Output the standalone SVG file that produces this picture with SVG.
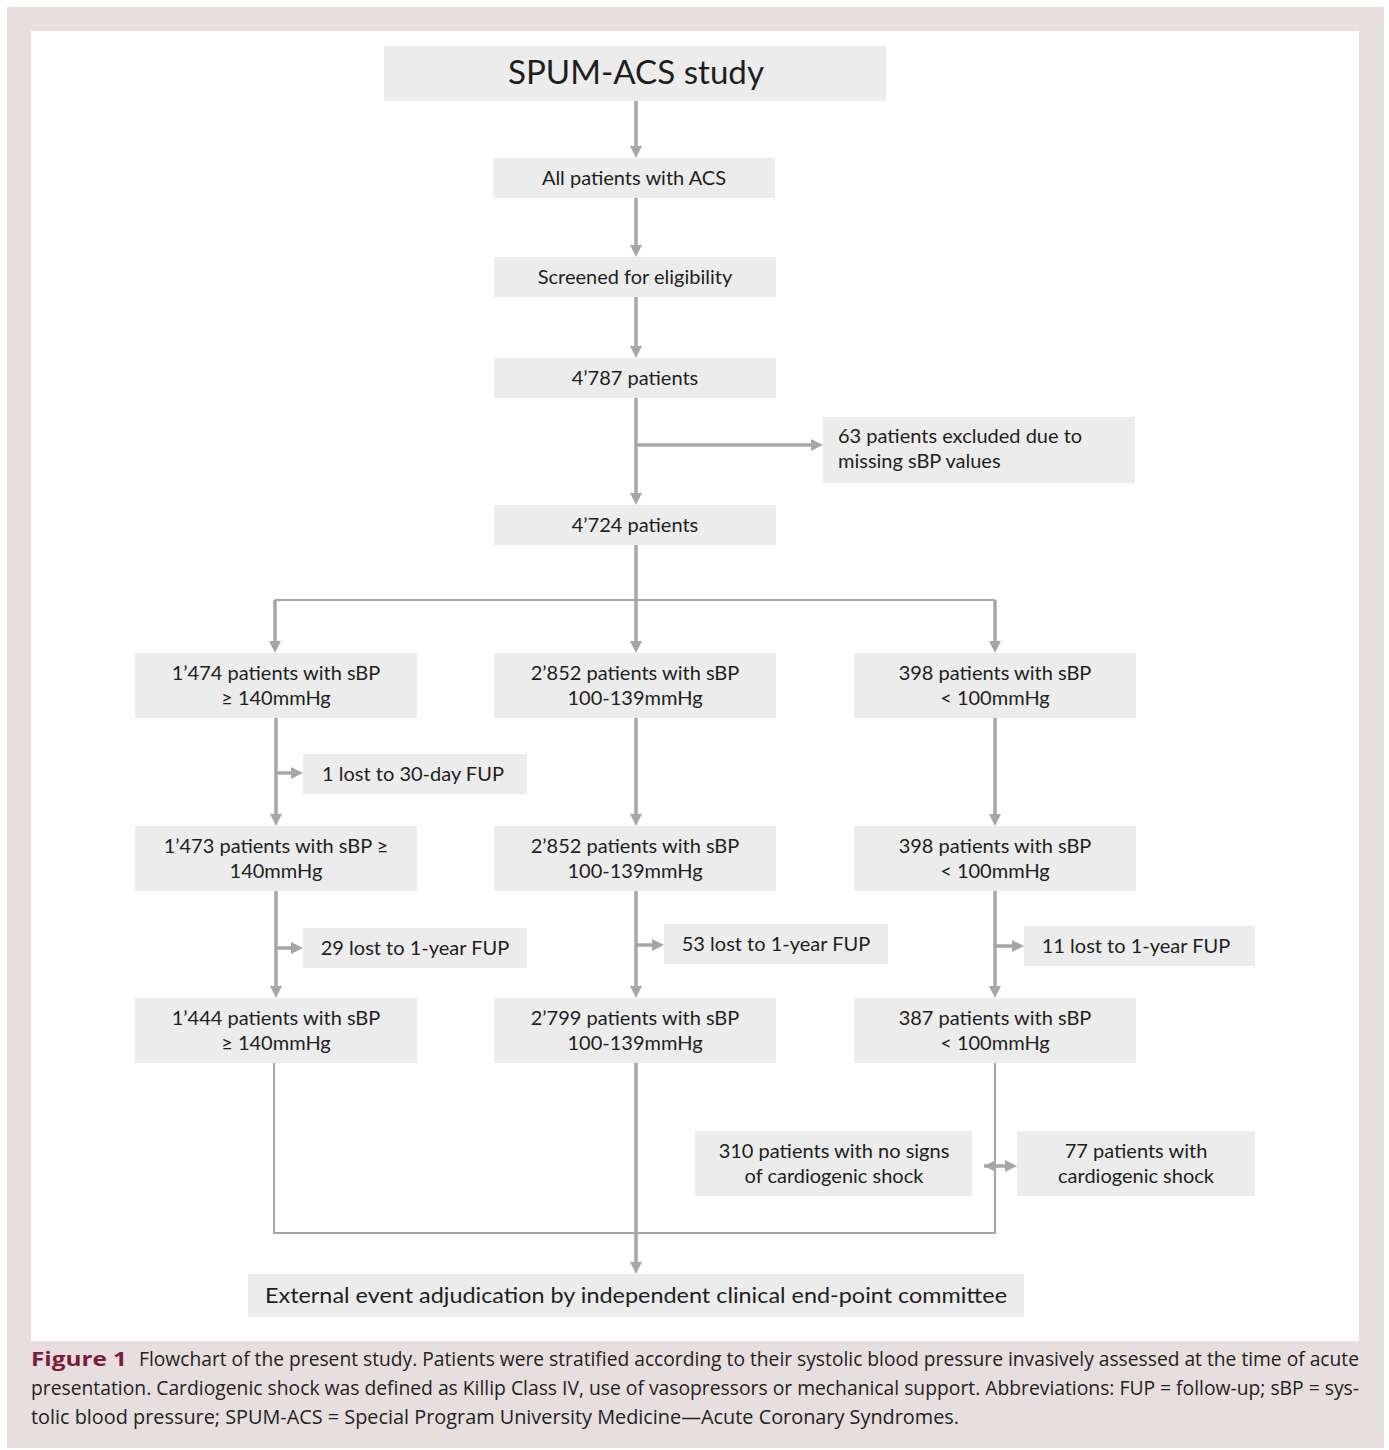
<svg xmlns="http://www.w3.org/2000/svg" width="1389" height="1450" viewBox="0 0 1389 1450">
<style>
.bg{fill:#e8dede}
.box{fill:#ececec}
.t{font-family:Lato,"Noto Sans",sans-serif;font-size:20px;fill:#1e1e1e;text-anchor:middle}
.tl{text-anchor:start}
.big{font-size:32px}
.ext{font-size:22px}
.a{stroke:#a6a6a6;stroke-width:3.5;fill:none}
.thin{stroke:#a6a6a6;stroke-width:2;fill:none}
.cap{font-family:"Open Sans","Liberation Sans",sans-serif;font-size:19.5px;fill:#222}
.fig{font-weight:bold;fill:#7b1c3c}
</style>
<defs>
<marker id="ah" viewBox="0 0 10 10" refX="0" refY="5" markerWidth="12" markerHeight="12" markerUnits="userSpaceOnUse" orient="auto"><path d="M0,0 L10,5 L0,10 z" fill="#a6a6a6"/></marker>
<marker id="ahs" viewBox="0 0 10 10" refX="10" refY="5" markerWidth="12" markerHeight="12" markerUnits="userSpaceOnUse" orient="auto-start-reverse"><path d="M0,0 L10,5 L0,10 z" fill="#a6a6a6"/></marker>
</defs>
<rect x="0" y="0" width="1389" height="1450" fill="#ffffff"/>
<rect class="bg" x="7" y="7" width="1377" height="1441"/>
<rect x="31" y="31" width="1328" height="1310" fill="#ffffff"/>

<g id="connectors">
<path class="a" d="M636,101 V146" marker-end="url(#ah)"/>
<path class="a" d="M636,198 V245" marker-end="url(#ah)"/>
<path class="a" d="M636,297 V346" marker-end="url(#ah)"/>
<path class="a" d="M636,398 V493" marker-end="url(#ah)"/>
<path class="a" d="M636,445 H811" marker-end="url(#ah)"/>
<path class="a" d="M636,545 V641" marker-end="url(#ah)"/>
<path class="thin" d="M275,600 H995"/>
<path class="a" d="M275,600 V641" marker-end="url(#ah)"/>
<path class="a" d="M995,600 V641" marker-end="url(#ah)"/>
<path class="a" d="M276,718 V814" marker-end="url(#ah)"/>
<path class="a" d="M276,773 H291" marker-end="url(#ah)"/>
<path class="a" d="M276,891 V986" marker-end="url(#ah)"/>
<path class="a" d="M276,948 H291" marker-end="url(#ah)"/>
<path class="a" d="M636,718 V814" marker-end="url(#ah)"/>
<path class="a" d="M636,891 V986" marker-end="url(#ah)"/>
<path class="a" d="M636,945 H652" marker-end="url(#ah)"/>
<path class="a" d="M995,718 V814" marker-end="url(#ah)"/>
<path class="a" d="M995,891 V986" marker-end="url(#ah)"/>
<path class="a" d="M995,946 H1012" marker-end="url(#ah)"/>
<path class="thin" d="M274,1063 V1233 H995 V1063"/>
<path class="a" d="M636,1063 V1262" marker-end="url(#ah)"/>
<path class="a" d="M984,1166 H1005" marker-start="url(#ahs)" marker-end="url(#ah)"/>
</g>

<g id="n-spum"><rect class="box" x="384" y="46" width="502" height="55"/><text class="t big" x="636" y="84" textLength="256" lengthAdjust="spacingAndGlyphs">SPUM-ACS study</text></g>
<g id="n-all"><rect class="box" x="493" y="158" width="282" height="40"/><text class="t" x="634" y="185">All patients with ACS</text></g>
<g id="n-screen"><rect class="box" x="494" y="257" width="282" height="40"/><text class="t" x="635" y="284">Screened for eligibility</text></g>
<g id="n-4787"><rect class="box" x="494" y="358" width="282" height="40"/><text class="t" x="635" y="385">4’787 patients</text></g>
<g id="n-excl"><rect class="box" x="823" y="417" width="312" height="66"/><text class="t tl" x="838" y="443">63 patients excluded due to</text><text class="t tl" x="838" y="468">missing sBP values</text></g>
<g id="n-4724"><rect class="box" x="494" y="505" width="282" height="40"/><text class="t" x="635" y="532">4’724 patients</text></g>

<g id="n-l1"><rect class="box" x="135" y="653" width="282" height="65"/><text class="t" x="276" y="680">1’474 patients with sBP</text><text class="t" x="276" y="705">≥ 140mmHg</text></g>
<g id="n-m1"><rect class="box" x="494" y="653" width="282" height="65"/><text class="t" x="635" y="680">2’852 patients with sBP</text><text class="t" x="635" y="705">100-139mmHg</text></g>
<g id="n-r1"><rect class="box" x="854" y="653" width="282" height="65"/><text class="t" x="995" y="680">398 patients with sBP</text><text class="t" x="995" y="705">&lt; 100mmHg</text></g>

<g id="n-lost30"><rect class="box" x="303" y="754" width="224" height="40"/><text class="t" x="413" y="781">1 lost to 30-day FUP</text></g>

<g id="n-l2"><rect class="box" x="135" y="826" width="282" height="65"/><text class="t" x="276" y="853">1’473 patients with sBP ≥</text><text class="t" x="276" y="878">140mmHg</text></g>
<g id="n-m2"><rect class="box" x="494" y="826" width="282" height="65"/><text class="t" x="635" y="853">2’852 patients with sBP</text><text class="t" x="635" y="878">100-139mmHg</text></g>
<g id="n-r2"><rect class="box" x="854" y="826" width="282" height="65"/><text class="t" x="995" y="853">398 patients with sBP</text><text class="t" x="995" y="878">&lt; 100mmHg</text></g>

<g id="n-lost29"><rect class="box" x="303" y="928" width="224" height="40"/><text class="t" x="415" y="955">29 lost to 1-year FUP</text></g>
<g id="n-lost53"><rect class="box" x="664" y="924" width="224" height="40"/><text class="t" x="776" y="951">53 lost to 1-year FUP</text></g>
<g id="n-lost11"><rect class="box" x="1024" y="926" width="231" height="40"/><text class="t" x="1136" y="953">11 lost to 1-year FUP</text></g>

<g id="n-l3"><rect class="box" x="135" y="998" width="282" height="65"/><text class="t" x="276" y="1025">1’444 patients with sBP</text><text class="t" x="276" y="1050">≥ 140mmHg</text></g>
<g id="n-m3"><rect class="box" x="494" y="998" width="282" height="65"/><text class="t" x="635" y="1025">2’799 patients with sBP</text><text class="t" x="635" y="1050">100-139mmHg</text></g>
<g id="n-r3"><rect class="box" x="854" y="998" width="282" height="65"/><text class="t" x="995" y="1025">387 patients with sBP</text><text class="t" x="995" y="1050">&lt; 100mmHg</text></g>

<g id="n-noshock"><rect class="box" x="695" y="1131" width="277" height="65"/><text class="t" x="834" y="1158">310 patients with no signs</text><text class="t" x="834" y="1183">of cardiogenic shock</text></g>
<g id="n-shock"><rect class="box" x="1017" y="1131" width="238" height="65"/><text class="t" x="1136" y="1158">77 patients with</text><text class="t" x="1136" y="1183">cardiogenic shock</text></g>

<g id="n-ext"><rect class="box" x="248" y="1274" width="776" height="43"/><text class="t ext" x="636" y="1303" textLength="742" lengthAdjust="spacingAndGlyphs">External event adjudication by independent clinical end-point committee</text></g>

<g id="caption">
<text class="cap fig" x="31" y="1366" font-size="22" textLength="96" lengthAdjust="spacingAndGlyphs">Figure 1</text>
<text class="cap" x="139" y="1366" textLength="1220" lengthAdjust="spacingAndGlyphs">Flowchart of the present study. Patients were stratified according to their systolic blood pressure invasively assessed at the time of acute</text>
<text class="cap" x="31" y="1395" textLength="1328" lengthAdjust="spacingAndGlyphs">presentation. Cardiogenic shock was defined as Killip Class IV, use of vasopressors or mechanical support. Abbreviations: FUP = follow-up; sBP = sys-</text>
<text class="cap" x="31" y="1424" textLength="928" lengthAdjust="spacingAndGlyphs">tolic blood pressure; SPUM-ACS = Special Program University Medicine—Acute Coronary Syndromes.</text>
</g>
</svg>
